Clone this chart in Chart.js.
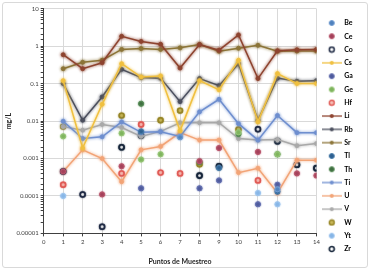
<!DOCTYPE html>
<html>
<head>
<meta charset="utf-8">
<script src="https://cdn.jsdelivr.net/npm/chart.js@4.4.1/dist/chart.umd.min.js"></script>
<style>
  html,body{margin:0;padding:0;background:#fff;}
  #box{position:absolute;left:2px;top:2px;width:364px;height:264px;border:1px solid #d9d9d9;border-radius:3px;}
  canvas{display:block;}
</style>
</head>
<body>
<div id="box"><canvas id="c" width="364" height="264"></canvas></div>
<script>
// puntos de muestreo 1..14
const puntos = [1,2,3,4,5,6,7,8,9,10,11,12,13,14];
const yTickLabels = ['0.00001','0.0001','0.001','0.01','0.1','1','10'];

// series con línea
const Cs = [0.12,0.0019,0.028,0.34,0.15,0.16,0.0055,0.12,0.068,0.42,0.0095,0.185,0.1,0.1];
const Li = [0.59,0.25,0.36,1.83,1.34,1.12,0.26,1.1,0.78,2.0,0.136,0.75,0.8,0.82];
const Rb = [0.1,0.0105,0.044,0.24,0.145,0.14,0.033,0.136,0.088,0.34,0.0105,0.14,0.115,0.12];
const Sr = [0.25,0.37,0.42,0.82,0.86,0.82,0.9,1.1,0.73,0.88,1.05,0.73,0.74,0.74];
const Ti = [0.0099,0.0034,0.0038,0.0095,0.005,0.0052,0.0039,0.0176,0.038,0.0085,0.0031,0.0141,0.0049,0.0049];
const U  = [0.00045,0.0017,0.001,0.00024,0.0017,0.0021,0.0049,0.0031,0.0031,0.00042,0.00055,0.00012,0.0009,0.0009];
const V  = [0.0071,0.0057,0.0081,0.0067,0.0039,0.0053,0.009,0.009,0.009,0.0034,0.0031,0.0032,0.0022,0.0025];

// series solo con puntos (null = sin dato)
const Be = [null,null,null,null,null,null,0.0037,null,null,null,null,0.00015,null,null];
const Ce = [0.00045,null,0.00011,0.00062,null,null,null,0.00085,0.0019,null,0.0015,null,0.0004,0.00035];
const Co = [0.00045,0.00011,0.000015,null,null,null,null,null,null,null,0.006,null,null,null];
const Ga = [null,null,null,null,0.00016,null,null,0.00016,0.00026,null,0.00006,0.0002,null,null];
const Ge = [0.0039,null,null,0.0047,0.00094,0.0013,null,null,null,0.005,null,0.0013,null,null];
const Hf = [0.0002,null,null,0.0004,0.0081,0.00042,0.0004,null,null,null,0.00026,null,null,null];
const Tl = [null,null,null,null,0.0053,null,null,null,0.00056,null,null,0.00013,null,null];
const Th = [null,null,null,null,0.029,null,null,0.0008,null,0.0045,null,0.0013,null,null];
const W  = [0.0071,null,null,0.014,null,0.0105,0.019,0.0007,null,0.006,null,null,null,null];
const Yt = [0.0001,null,null,null,null,null,null,null,null,null,0.00012,0.00006,null,null];
const Zr = [null,null,null,0.002,0.0041,null,null,0.00035,0.00062,null,null,0.0029,0.00068,0.00055];

const pts = arr => puntos.map((x,i)=>({x, y: arr[i]})).filter(p => p.y != null);

function lineSet(label, arr, color){
  return { label, data: pts(arr), showLine:true, borderColor:color, backgroundColor:color,
    borderWidth:1.5, pointRadius:2, pointBorderWidth:0.8, pointBorderColor:color, glow:color, blur:3, isLine:true };
}
function dotSet(label, arr, fill, border, bw){
  return { label, data: pts(arr), showLine:false, backgroundColor:fill, borderColor:border,
    pointRadius:2.5, pointBorderWidth:bw, glow:border, blur:1.5, isLine:false };
}

const datasets = [
  dotSet('Be', Be, '#4f81bd', '#6f9bd0', 1),
  dotSet('Ce', Ce, '#a3405a', '#b8556b', 1),
  dotSet('Co', Co, '#ffffff', '#1f2a44', 1.5),
  lineSet('Cs', Cs, '#f0c040'),
  dotSet('Ga', Ga, '#4e5a9c', '#6470b0', 1),
  dotSet('Ge', Ge, '#7db35c', '#94c474', 1),
  dotSet('Hf', Hf, '#f6c0b8', '#e05a55', 1.4),
  lineSet('Li', Li, '#8e4430'),
  lineSet('Rb', Rb, '#4b4f5e'),
  lineSet('Sr', Sr, '#8c7538'),
  dotSet('Tl', Tl, '#2e5f8f', '#457aa8', 1),
  dotSet('Th', Th, '#3f6e40', '#558a55', 1),
  lineSet('Ti', Ti, '#6f8fcf'),
  lineSet('U', U, '#f2a477'),
  lineSet('V', V, '#a9a9a9'),
  dotSet('W', W, '#c9b85a', '#968526', 1.4),
  dotSet('Yt', Yt, '#86b5e6', '#9cc4ee', 1),
  dotSet('Zr', Zr, '#ffffff', '#17263b', 1.7)
];

function legendIcon(ds){
  const c = document.createElement('canvas');
  c.width = 20; c.height = 8;
  const g = c.getContext('2d');
  if(ds.isLine){
    g.strokeStyle = ds.borderColor; g.lineWidth = 1.3;
    g.beginPath(); g.moveTo(0,4); g.lineTo(20,4); g.stroke();
    g.beginPath(); g.arc(10,4,2,0,Math.PI*2); g.fillStyle = ds.backgroundColor; g.fill();
  } else {
    g.beginPath(); g.arc(10,4,2.5,0,Math.PI*2);
    g.fillStyle = ds.backgroundColor; g.fill();
    g.lineWidth = ds.pointBorderWidth; g.strokeStyle = ds.borderColor; g.stroke();
  }
  return c;
}

const glowPlugin = {
  id:'glow',
  beforeDatasetDraw(chart, args){
    const ds = chart.data.datasets[args.index];
    chart.ctx.save();
    chart.ctx.shadowColor = ds.glow;
    chart.ctx.shadowBlur = ds.blur;
  },
  afterDatasetDraw(chart){ chart.ctx.restore(); }
};

const isMajor = v => { const e = Math.log10(v); return Math.abs(e - Math.round(e)) < 1e-6; };
const tickFont = {family:'Lato, "Open Sans", sans-serif', size:6};

new Chart(document.getElementById('c'), {
  type:'scatter',
  data:{ datasets },
  plugins:[glowPlugin],
  options:{
    responsive:false, animation:false,
    layout:{ padding:{left:2, top:3, right:4, bottom:1} },
    plugins:{
      tooltip:{enabled:false},
      legend:{
        position:'right',
        labels:{
          usePointStyle:true, pointStyleWidth:18, padding:6.3,
          color:'#262626', font:{family:'Lato, "Open Sans", sans-serif', size:7, weight:'bold'},
          generateLabels(chart){
            return chart.data.datasets.map((ds,i)=>({
              text: ds.label, pointStyle: legendIcon(ds), datasetIndex:i,
              fillStyle: ds.backgroundColor, strokeStyle: ds.borderColor, lineWidth:0, hidden:false
            }));
          }
        }
      }
    },
    scales:{
      x:{
        type:'linear', min:0, max:14,
        ticks:{ stepSize:1, color:'#404040', font:tickFont, padding:2 },
        grid:{ color:'#d9d9d9', tickColor:'#404040', tickLength:3 },
        border:{ color:'#404040' },
        title:{ display:true, text:'Puntos de Muestreo', color:'#262626',
          font:{family:'Lato, "Open Sans", sans-serif', size:7, weight:'bold'}, padding:{top:10, bottom:0} }
      },
      y:{
        type:'logarithmic', min:0.00001, max:10,
        ticks:{ autoSkip:false, color:'#404040', font:tickFont, padding:2,
          callback:(v)=> isMajor(v) ? yTickLabels[Math.round(Math.log10(v))+5] : '' },
        grid:{ color: c => isMajor(c.tick.value) ? '#d9d9d9' : 'rgba(0,0,0,0)', tickColor:'#404040', tickLength:3 },
        border:{ color:'#404040' },
        title:{ display:true, text:'mg/L', color:'#262626',
          font:{family:'Lato, "Open Sans", sans-serif', size:7, weight:'bold'}, padding:{top:0,bottom:1} }
      }
    }
  }
});
</script>
</body>
</html>
